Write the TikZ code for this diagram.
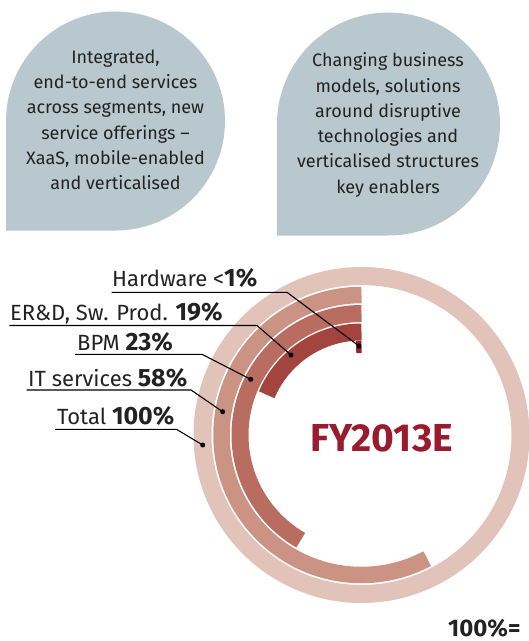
\documentclass[tikz,border=0pt]{standalone}
\usepackage{fontspec}
\setmainfont{Fira Sans}
\definecolor{bubblec}{HTML}{B9C8CE}
\definecolor{totc}{HTML}{E2C3B9}
\definecolor{itc}{HTML}{CA9384}
\definecolor{bpmc}{HTML}{B86D60}
\definecolor{erdc}{HTML}{A4443F}
\definecolor{hwc}{HTML}{951F2E}
\definecolor{fyc}{HTML}{9A1B2E}
\definecolor{txtc}{HTML}{222222}
\newcommand{\pct}[1]{{\fontsize{25}{26}\selectfont\bfseries #1}}
\begin{document}
\begin{tikzpicture}[x=1pt,y=-1pt,
  bubble/.style={fill=bubblec},
  btext/.style={align=center,inner sep=0pt,text=txtc,font=\fontsize{18}{25.3}\selectfont},
  band/.style={line width=#1,line cap=butt},
  lab/.style={inner sep=0pt,text=txtc,font=\fontsize{22}{24}\selectfont},
  conn/.style={draw=black,line width=1.1pt},
  dotnode/.style={circle,fill=black,inner sep=0pt,minimum size=5pt}]
\useasboundingbox (0,0) rectangle (529,641);
% bubbles
\fill[bubble] (6,230.5) -- (6,121) arc[start angle=180,end angle=450,radius=109.5] -- cycle;
\fill[bubble] (277,235.5) -- (277,124) arc[start angle=180,end angle=450,radius=111.5] -- cycle;
\node[btext,anchor=north] (b1) at (115.5,49.5) {Integrated,\\end-to-end services\\across segments, new\\service offerings –\\XaaS, mobile-enabled\\and verticalised};
\node[btext,anchor=north] (b2) at (388,52.5) {Changing business\\models, solutions\\around disruptive\\technologies and\\verticalised structures\\key enablers};
% rings
\coordinate (c) at (361.5,435);
\draw[totc,band=18pt] (c) circle[radius=159];
\draw[itc,band=16.5pt] (c) ++(-90:140) arc[start angle=-90,end angle=-298,radius=140];
\draw[bpmc,band=17pt] (c) ++(-90:121.5) arc[start angle=-90,end angle=-240,radius=121.5];
\draw[erdc,band=17pt] (c) ++(-90:103) arc[start angle=-90,end angle=-157,radius=103];
\draw[hwc,band=12pt] (c) ++(-90:88) arc[start angle=-90,end angle=-93.5,radius=88];
\node[font=\fontsize{39}{40}\selectfont\bfseries,text=fyc,inner sep=0pt] (fy) at (381.7,438) {FY2013E};
% labels
\node[lab,anchor=base west] (l1) at (112,286.7) {Hardware <\pct{1\%}};
\node[lab,anchor=base west] (l2) at (10,320) {ER\&D, Sw. Prod. \pct{19\%}};
\node[lab,anchor=base west] (l3) at (77,350.7) {BPM \pct{23\%}};
\node[lab,anchor=base west] (l4) at (28,386) {IT services \pct{58\%}};
\node[lab,anchor=base west] (l5) at (57,424) {Total \pct{100\%}};
\coordinate (u1) at (111.7,292.3); \coordinate (k1) at (287,292.3);
\coordinate (u2) at (9.3,325.5);  \coordinate (k2) at (257,325.5);
\coordinate (u3) at (75,354.3);   \coordinate (k3) at (202,354.3);
\coordinate (u4) at (26.7,390);   \coordinate (k4) at (191,390);
\coordinate (u5) at (55,429.3);   \coordinate (k5) at (176.5,429.3);
\node[dotnode] (d1) at (359,346) {};
\node[dotnode] (d2) at (291,355) {};
\node[dotnode] (d3) at (250.7,379.3) {};
\node[dotnode] (d4) at (222.7,411.7) {};
\node[dotnode] (d5) at (202.7,445) {};
\draw[conn] (u1) -- (k1) -- (d1.center);
\draw[conn] (u2) -- (k2) -- (d2.center);
\draw[conn] (u3) -- (k3) -- (d3.center);
\draw[conn] (u4) -- (k4) -- (d4.center);
\draw[conn] (u5) -- (k5) -- (d5.center);
\node[inner sep=0pt,anchor=base west,text=txtc,font=\fontsize{24}{26}\selectfont\bfseries] (hund) at (448,636) {100\%=};
\end{tikzpicture}
\end{document}
